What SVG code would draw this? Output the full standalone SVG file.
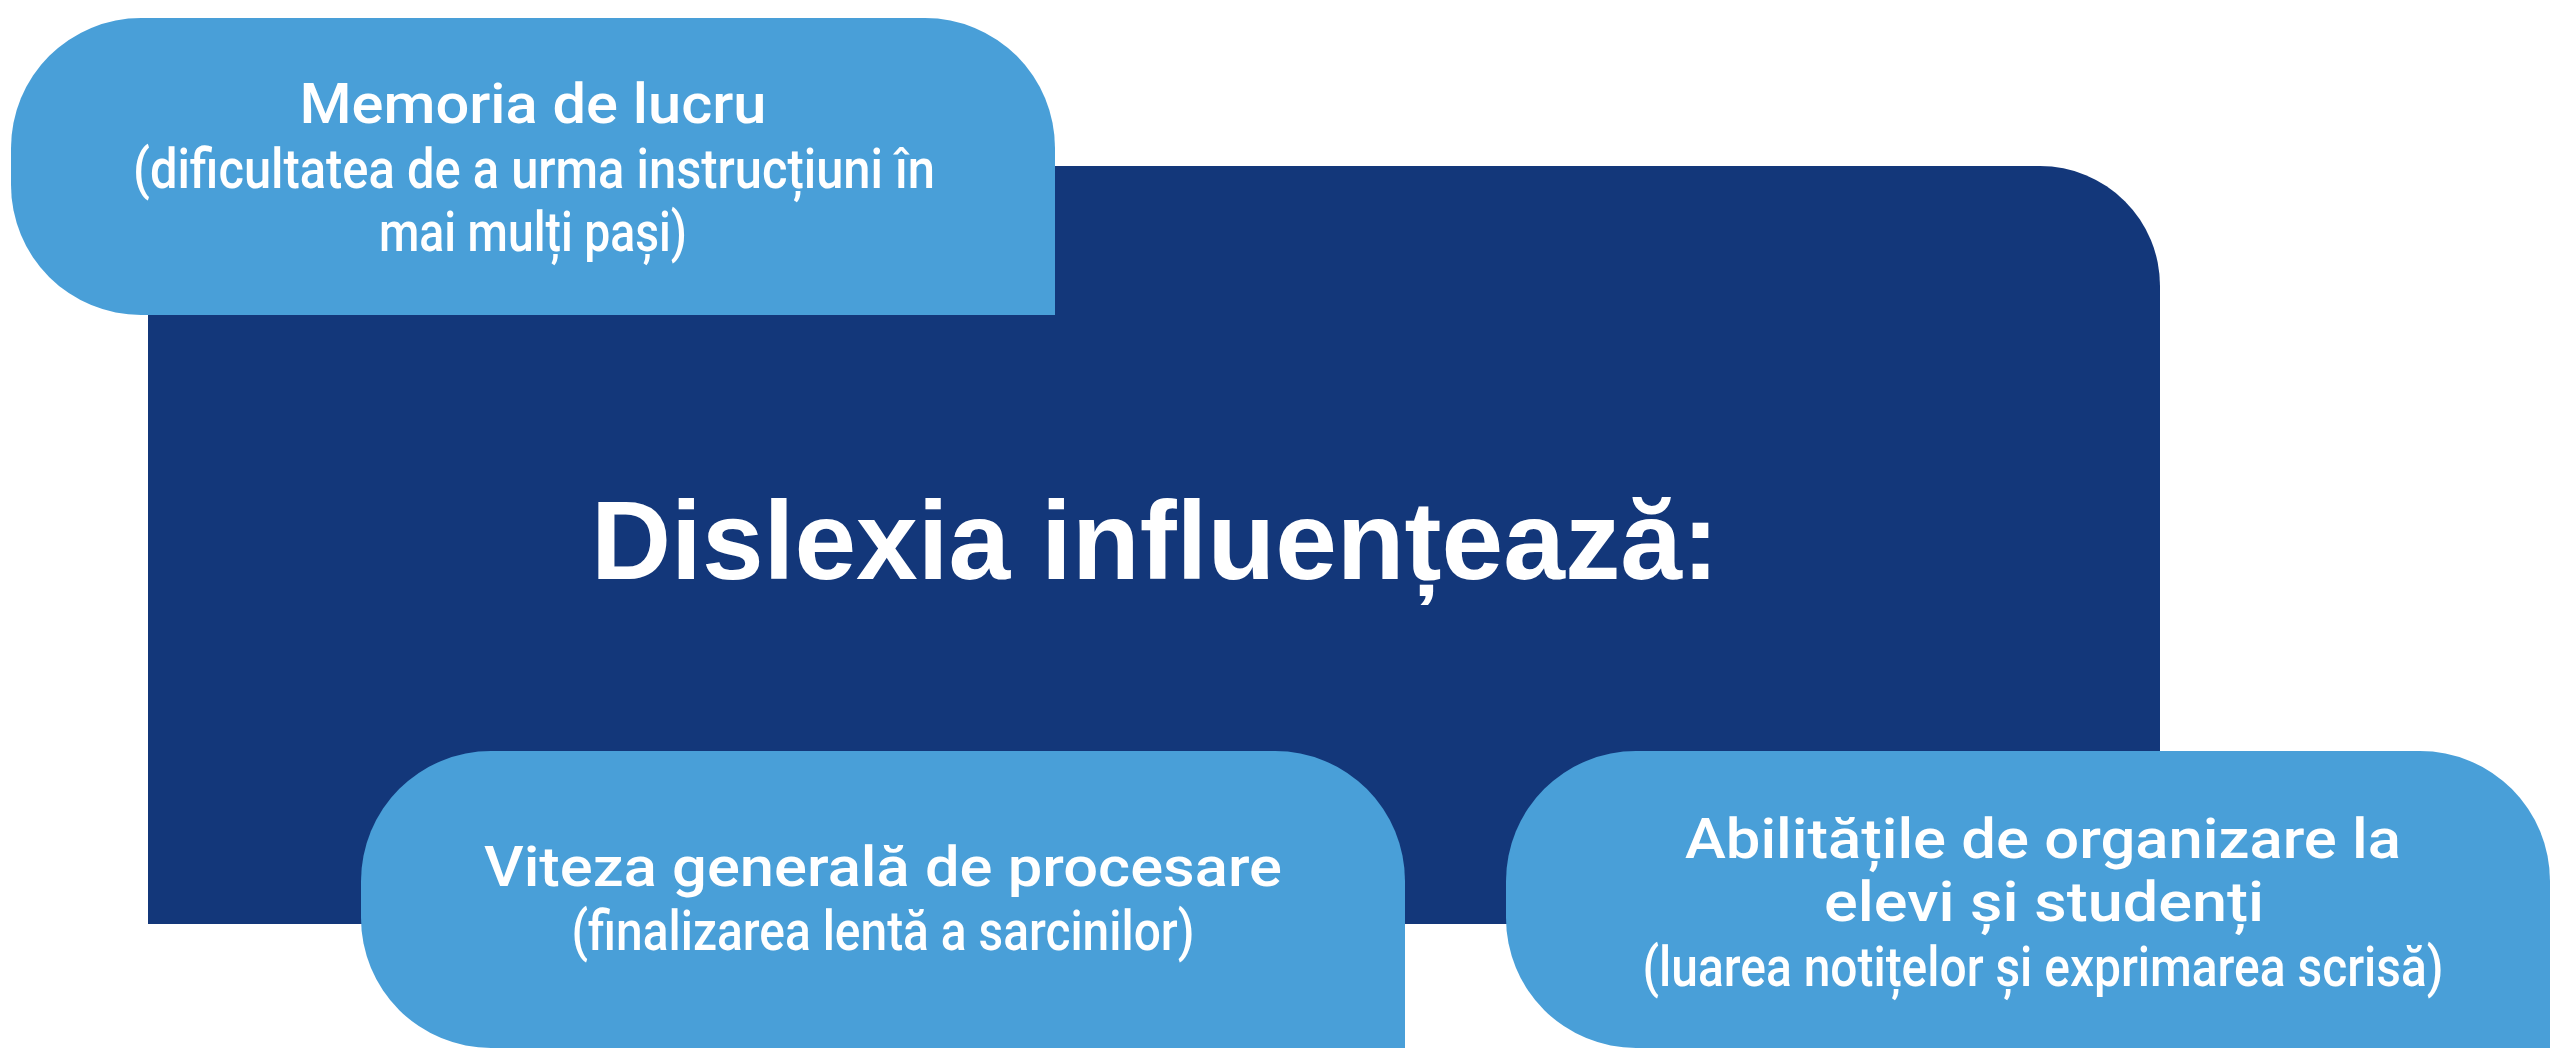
<svg xmlns="http://www.w3.org/2000/svg" width="2560" height="1059" viewBox="0 0 2560 1059">
<style>
.dark{fill:#13377A}
.light{fill:#499FD8}
.t{fill:#FFFFFF;font-family:Roboto,"Liberation Sans",sans-serif;font-weight:500;font-size:56px;text-anchor:middle}
.title{fill:#FFFFFF;font-family:"Liberation Sans",Arial,sans-serif;font-weight:bold;font-size:111px;text-anchor:middle}
</style>
<rect width="2560" height="1059" fill="#FFFFFF"/>
<g id="center">
<path class="dark" d="M148,166 H2040 A120,120 0 0 1 2160,286 V924 H148 Z"/>
<text class="title" x="1155" y="579" textLength="1128" lengthAdjust="spacingAndGlyphs">Dislexia influențează:</text>
</g>
<g id="node-memorie">
<path class="light" d="M141,18 H925 A130,130 0 0 1 1055,148 V315 H141 A130,130 0 0 1 11,185 V148 A130,130 0 0 1 141,18 Z"/>
<text class="t" x="533" y="123" textLength="467" lengthAdjust="spacingAndGlyphs">Memoria de lucru</text>
<text class="t" x="534" y="188" textLength="802" lengthAdjust="spacingAndGlyphs">(dificultatea de a urma instrucțiuni în</text>
<text class="t" x="533" y="251" textLength="308" lengthAdjust="spacingAndGlyphs">mai mulți pași)</text>
</g>
<g id="node-viteza">
<path class="light" d="M491,751 H1275 A130,130 0 0 1 1405,881 V1048 H491 A130,130 0 0 1 361,918 V881 A130,130 0 0 1 491,751 Z"/>
<text class="t" x="883" y="886" textLength="798" lengthAdjust="spacingAndGlyphs">Viteza generală de procesare</text>
<text class="t" x="883" y="950" textLength="623" lengthAdjust="spacingAndGlyphs">(finalizarea lentă a sarcinilor)</text>
</g>
<g id="node-organizare">
<path class="light" d="M1636,751 H2420 A130,130 0 0 1 2550,881 V1048 H1636 A130,130 0 0 1 1506,918 V881 A130,130 0 0 1 1636,751 Z"/>
<text class="t" x="2043" y="858" textLength="716" lengthAdjust="spacingAndGlyphs">Abilitățile de organizare la</text>
<text class="t" x="2044" y="921" textLength="440" lengthAdjust="spacingAndGlyphs">elevi și studenți</text>
<text class="t" x="2043" y="986" textLength="801" lengthAdjust="spacingAndGlyphs">(luarea notițelor și exprimarea scrisă)</text>
</g>
<g id="connectors"/>
</svg>
